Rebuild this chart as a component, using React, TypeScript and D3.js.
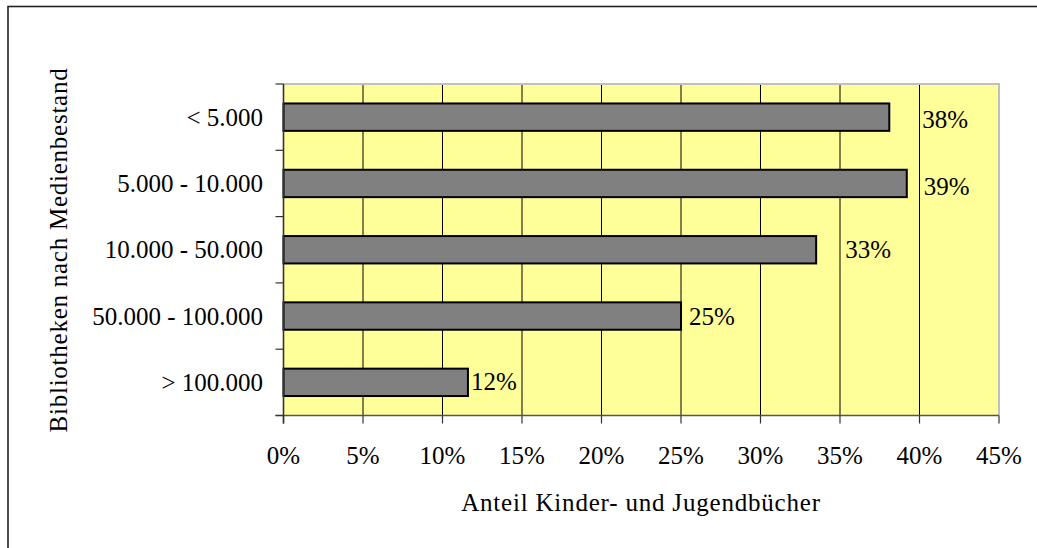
import React from "react";
import * as d3 from "d3";

const categories = ["< 5.000", "5.000 - 10.000", "10.000 - 50.000", "50.000 - 100.000", "> 100.000"];
const values = [38.1, 39.2, 33.5, 25.0, 11.6];
const valueLabels = ["38%", "39%", "33%", "25%", "12%"];
const xTicks = [0, 5, 10, 15, 20, 25, 30, 35, 40, 45];
const xTitle = "Anteil Kinder- und Jugendbücher";
const yTitle = "Bibliotheken nach Medienbestand";

// layout: horizontal offsets (px) of the value labels from bar ends, as placed in the original
const labelShift = [33, 17, 29, 8, 3];
const labelDy = [2, 3, 0, 0, -1];

const W = 1037;
const H = 548;
const plot = { left: 283.5, right: 999, top: 84, bottom: 415.5 };
const FONT = "'Liberation Serif', 'Times New Roman', serif";

export default function App() {
  const x = d3.scaleLinear().domain([0, 45]).range([plot.left, plot.right]);
  const y = d3
    .scaleBand<string>()
    .domain(categories)
    .range([plot.top, plot.bottom])
    .paddingInner(0.587)
    .paddingOuter(0.2935);
  const step = (plot.bottom - plot.top) / categories.length;
  const boundaries = d3.range(categories.length + 1).map((i) => plot.top + i * step);

  return (
    <svg
      width={W}
      height={H}
      style={{ position: "absolute", left: 0, top: 0, background: "#fff" }}
      fontFamily={FONT}
    >
      {/* outer chart border (extends past the picture) */}
      <rect x={8} y={6.5} width={1100} height={600} fill="none" stroke="#222" strokeWidth={1.6} />

      {/* plot area */}
      <rect
        x={plot.left}
        y={plot.top}
        width={plot.right - plot.left}
        height={plot.bottom - plot.top}
        fill="#FFFF99"
      />
      {/* gridlines */}
      {xTicks
        .filter((t) => t > 0 && t < 45)
        .map((t) => (
          <line key={t} x1={x(t)} x2={x(t)} y1={plot.top} y2={plot.bottom} stroke="#000" strokeWidth={1} />
        ))}
      {/* plot border top / right */}
      <path
        d={`M${plot.left},${plot.top}H${plot.right}V${plot.bottom}`}
        fill="none"
        stroke="#c0c0c0"
        strokeWidth={2}
      />

      {/* bars */}
      {categories.map((c, i) => (
        <rect
          key={c}
          x={x(0)}
          y={y(c)!}
          width={x(values[i]) - x(0)}
          height={y.bandwidth()}
          fill="#808080"
          stroke="#000"
          strokeWidth={2}
        />
      ))}

      {/* value labels */}
      {categories.map((c, i) => (
        <text
          key={c}
          x={x(values[i]) + labelShift[i]}
          y={y(c)! + y.bandwidth() / 2 + labelDy[i]}
          dominantBaseline="central"
          fontSize={25}
          fill="#000"
        >
          {valueLabels[i]}
        </text>
      ))}

      {/* x axis */}
      <line x1={plot.left - 8} x2={plot.right} y1={plot.bottom} y2={plot.bottom} stroke="#555" strokeWidth={1.6} />
      {xTicks.map((t) => (
        <g key={t}>
          <line x1={x(t)} x2={x(t)} y1={plot.bottom} y2={plot.bottom + 8} stroke="#333" strokeWidth={1.2} />
          <text x={x(t)} y={463.5} textAnchor="middle" fontSize={25} fill="#000">
            {t}%
          </text>
        </g>
      ))}

      {/* y axis */}
      <line x1={plot.left} x2={plot.left} y1={plot.top} y2={plot.bottom + 8} stroke="#333" strokeWidth={1.6} />
      {boundaries.map((b, i) => (
        <line key={i} x1={plot.left - 8} x2={plot.left} y1={b} y2={b} stroke="#333" strokeWidth={1.2} />
      ))}
      {categories.map((c) => (
        <text
          key={c}
          x={263}
          y={y(c)! + y.bandwidth() / 2}
          textAnchor="end"
          dominantBaseline="central"
          fontSize={25}
          fill="#000"
        >
          {c}
        </text>
      ))}

      {/* titles */}
      <text x={641} y={511} textAnchor="middle" fontSize={25} letterSpacing={0.8} fill="#000">
        {xTitle}
      </text>
      <text
        transform={`translate(67,250) rotate(-90)`}
        textAnchor="middle"
        fontSize={25}
        letterSpacing={0.75}
        fill="#000"
      >
        {yTitle}
      </text>
    </svg>
  );
}
